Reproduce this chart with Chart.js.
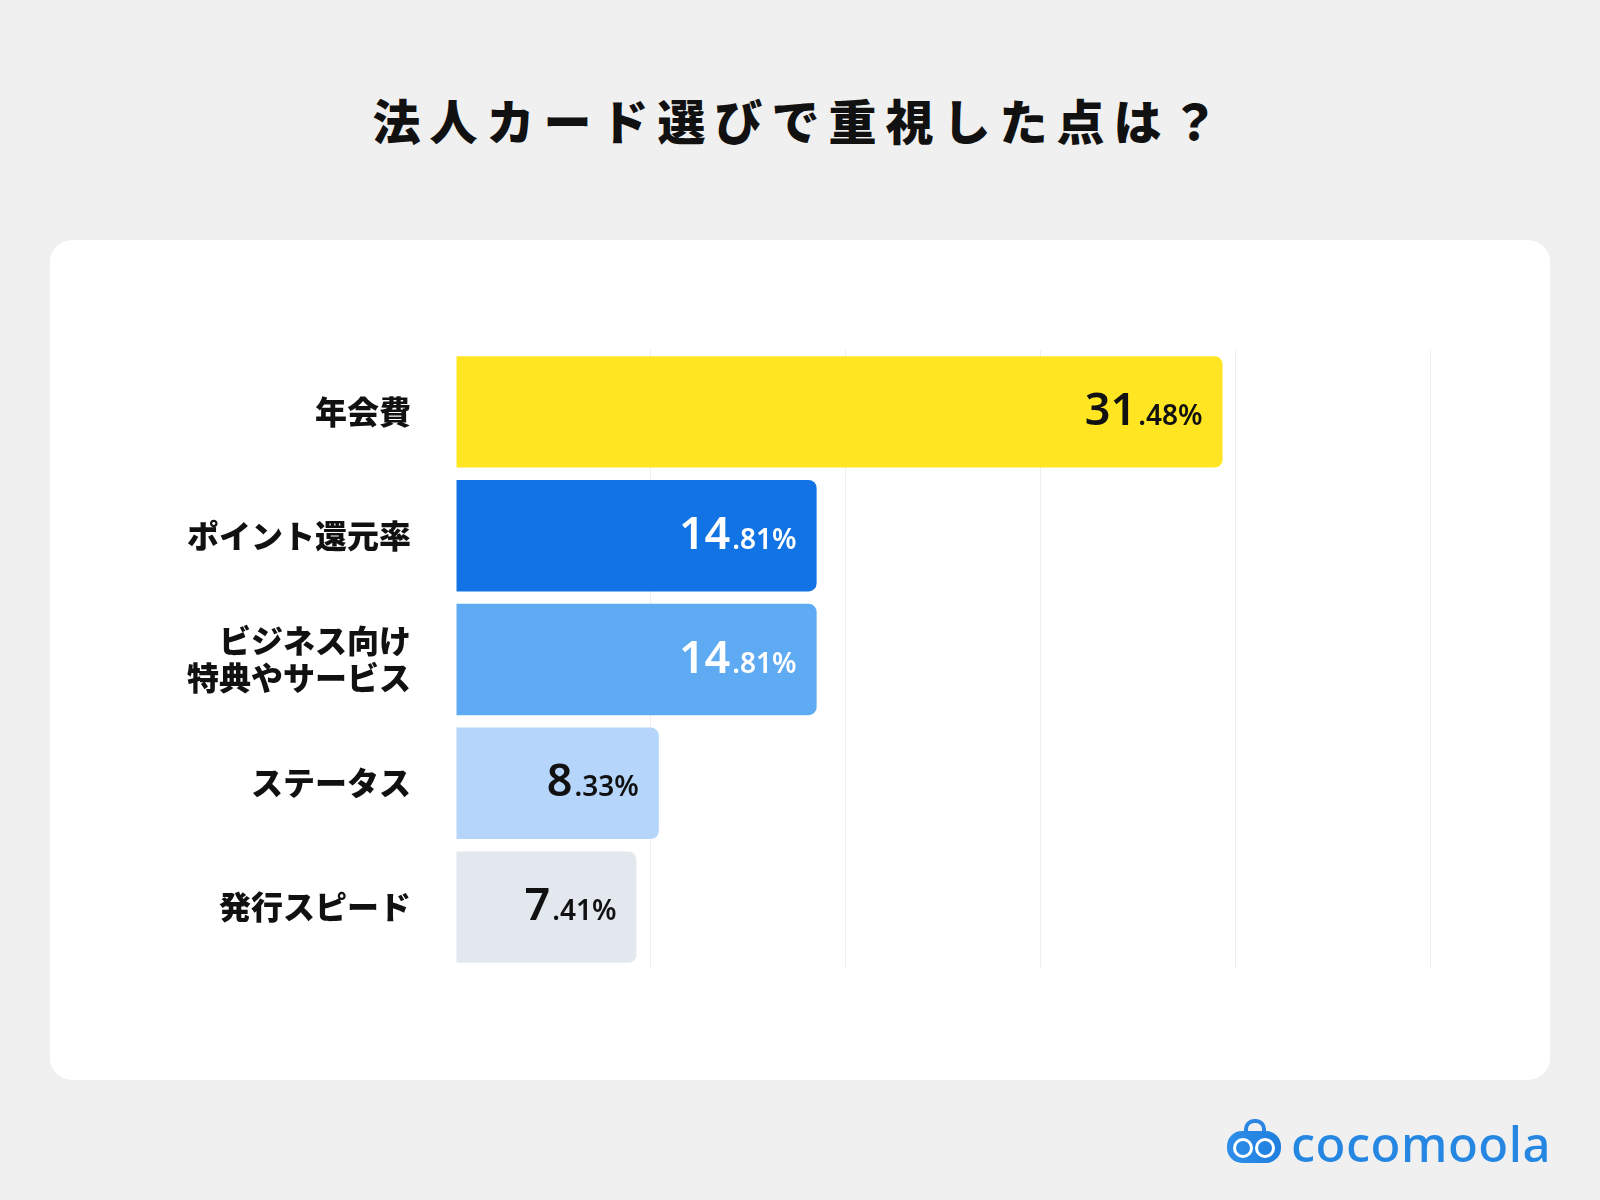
<!DOCTYPE html>
<html lang="ja">
<head>
<meta charset="utf-8">
<title>法人カード選びで重視した点は？</title>
<script src="https://cdn.jsdelivr.net/npm/chart.js@4"></script>
<style>
    html, body {
        margin: 0;
        padding: 0;
        width: 1600px;
        height: 1200px;
        background: #f0f0f0;
        overflow: hidden;
        font-family: "Noto Sans CJK JP", "Noto Sans", sans-serif;
    }
    .title {
        position: absolute;
        left: 0;
        top: 87px;
        width: 1600px;
        text-align: center;
        font-size: 48px;
        font-weight: 900;
        letter-spacing: 9px;
        line-height: 64px;
        color: #111;
    }
    .card {
        position: absolute;
        left: 50px;
        top: 240px;
        width: 1500px;
        height: 840px;
        background: #fff;
        border-radius: 22px;
    }
    .card canvas {
        position: absolute;
        left: 0;
        top: 0;
    }
    .logo {
        position: absolute;
        left: 1227px;
        top: 1113px;
        height: 54px;
    }
    .logo .icon {
        position: absolute;
        left: 0;
        top: 0;
        width: 54px;
        height: 50px;
    }
    .logo .handle {
        position: absolute;
        left: 17px;
        top: 6px;
        width: 14px;
        height: 12px;
        border: 4px solid #2a86e2;
        border-bottom: none;
        border-radius: 10px 10px 0 0;
    }
    .logo .body {
        position: absolute;
        left: 0;
        top: 18px;
        width: 54px;
        height: 32px;
        border-radius: 15px;
        background: linear-gradient(90deg, #2f8ee8, #1f7fdf);
    }
    .logo .eye {
        position: absolute;
        top: 7px;
        width: 14px;
        height: 14px;
        border: 3px solid #fff;
        border-radius: 50%;
    }
    .logo .text {
        position: absolute;
        left: 64px;
        top: -3px;
        font-family: "Noto Sans", sans-serif;
        font-size: 49px;
        font-weight: 500;
        letter-spacing: 0.5px;
        color: #2587e2;
        white-space: nowrap;
    }
</style>
</head>
<body>
<div class="title">法人カード選びで重視した点は？</div>
<div class="card">
    <canvas id="chart" width="1500" height="840"></canvas>
</div>
<div class="logo">
    <div class="icon">
        <div class="handle"></div>
        <div class="body">
            <div class="eye" style="left:6px"></div>
            <div class="eye" style="left:28px"></div>
        </div>
    </div>
    <div class="text">cocomoola</div>
</div>
<script>
// データ
const categories = ['年会費', 'ポイント還元率', ['ビジネス向け', '特典やサービス'], 'ステータス', '発行スピード'];
const values = [31.48, 14.81, 14.81, 8.33, 7.41];
const barColors = ['#ffe522', '#1274e4', '#5eaaf3', '#b5d6fa', '#e3e7ee'];
const valueColors = ['#111111', '#ffffff', '#ffffff', '#111111', '#111111'];
const axisMin = 0;
const axisMax = 40;
const axisStep = 8;

// バーの中に数値を描く（整数部を大きく、小数部を小さく）
const valueLabels = {
    id: 'valueLabels',
    afterDatasetsDraw(chart) {
        const ctx = chart.ctx;
        const meta = chart.getDatasetMeta(0);
        ctx.save();
        ctx.textBaseline = 'alphabetic';
        ctx.textAlign = 'right';
        meta.data.forEach(function(bar, i) {
            const text = values[i].toFixed(2);
            const intPart = text.split('.')[0];
            const decPart = '.' + text.split('.')[1] + '%';
            const right = bar.x - 20;
            const base = bar.y + 13;
            ctx.fillStyle = valueColors[i];
            ctx.font = '600 28px "Noto Sans", sans-serif';
            ctx.fillText(decPart, right, base);
            const w = ctx.measureText(decPart).width;
            ctx.font = '600 45px "Noto Sans", sans-serif';
            ctx.fillText(intPart, right - w - 2, base);
        });
        ctx.restore();
    }
};

const ctx = document.getElementById('chart').getContext('2d');
const chart = new Chart(ctx, {
    type: 'bar',
    data: {
        labels: categories,
        datasets: [{
            data: values,
            backgroundColor: barColors,
            borderRadius: 8,
            borderSkipped: 'start',
            barPercentage: 0.9,
            categoryPercentage: 1.0
        }]
    },
    options: {
        indexAxis: 'y',
        responsive: false,
        animation: false,
        layout: {
            padding: { top: 110, bottom: 111, right: 120, left: 0 }
        },
        plugins: {
            legend: { display: false },
            tooltip: { enabled: false },
            title: { display: false }
        },
        scales: {
            x: {
                min: axisMin,
                max: axisMax,
                ticks: { display: false, stepSize: axisStep },
                grid: {
                    drawTicks: false,
                    color: function(c) {
                        return c.tick && c.tick.value === 0 ? 'rgba(0,0,0,0)' : '#efefef';
                    },
                    lineWidth: 1
                },
                border: { display: false }
            },
            y: {
                afterFit: function(scale) { scale.width = 406; },
                grid: { display: false, drawTicks: false },
                border: { display: false },
                ticks: {
                    padding: 45,
                    color: '#111111',
                    font: { family: '"Noto Sans CJK JP", sans-serif', size: 32, weight: '900', lineHeight: 1.17 }
                }
            }
        }
    },
    plugins: [valueLabels]
});
</script>
</body>
</html>
